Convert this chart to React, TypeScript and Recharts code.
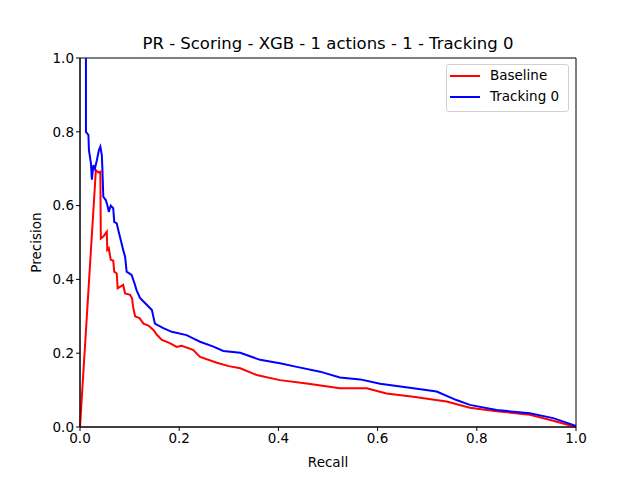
import { LineChart, Line, XAxis, YAxis, ReferenceArea } from 'recharts';

// PR curve points: [recall, precision]
const baselinePoints: [number, number][] = [
  [0, 0], [0.032, 0.696], [0.037, 0.69], [0.041, 0.692], [0.042, 0.511], [0.047, 0.516],
  [0.054, 0.529], [0.055, 0.48], [0.058, 0.485], [0.062, 0.453], [0.067, 0.451], [0.069, 0.421],
  [0.074, 0.416], [0.076, 0.376], [0.087, 0.385], [0.091, 0.362], [0.101, 0.358], [0.105, 0.349],
  [0.107, 0.326], [0.111, 0.30], [0.12, 0.295], [0.128, 0.28], [0.138, 0.275], [0.148, 0.263],
  [0.155, 0.25], [0.165, 0.236], [0.18, 0.228], [0.195, 0.217], [0.205, 0.22], [0.228, 0.209],
  [0.242, 0.19], [0.276, 0.174], [0.3, 0.165], [0.323, 0.159], [0.356, 0.141], [0.403, 0.127],
  [0.457, 0.118], [0.524, 0.105], [0.578, 0.105], [0.618, 0.091], [0.672, 0.082], [0.739, 0.069],
  [0.786, 0.052], [0.84, 0.043], [0.907, 0.033], [0.954, 0.017], [1.0, 0.0],
];

const trackingPoints: [number, number][] = [
  [0.012, 1.0], [0.012, 0.80], [0.017, 0.791], [0.018, 0.75], [0.022, 0.715], [0.024, 0.67],
  [0.027, 0.71], [0.03, 0.70], [0.034, 0.723], [0.038, 0.75], [0.041, 0.76], [0.044, 0.737],
  [0.045, 0.705], [0.047, 0.624], [0.052, 0.615], [0.056, 0.597], [0.058, 0.583], [0.062, 0.60],
  [0.067, 0.593], [0.069, 0.556], [0.074, 0.552], [0.078, 0.529], [0.083, 0.502], [0.087, 0.48],
  [0.091, 0.461], [0.094, 0.421], [0.104, 0.412], [0.11, 0.389], [0.114, 0.371], [0.121, 0.35],
  [0.131, 0.336], [0.145, 0.317], [0.151, 0.28], [0.168, 0.268], [0.185, 0.258], [0.215, 0.249],
  [0.228, 0.24], [0.242, 0.231], [0.269, 0.218], [0.289, 0.206], [0.323, 0.201], [0.363, 0.182],
  [0.403, 0.173], [0.437, 0.163], [0.484, 0.15], [0.524, 0.134], [0.565, 0.129], [0.605, 0.117],
  [0.672, 0.105], [0.719, 0.096], [0.759, 0.073], [0.786, 0.06], [0.84, 0.046], [0.907, 0.037],
  [0.954, 0.024], [1.0, 0.003],
];

const ticks = [0, 0.2, 0.4, 0.6, 0.8, 1.0];
const seriesNames = ['Baseline', 'Tracking 0'];
const seriesColors = ['#ff0000', '#0000ff'];

const baseline = baselinePoints.map(([recall, precision]) => ({ recall, precision }));
const tracking = trackingPoints.map(([recall, precision]) => ({ recall, precision }));

const font = 'DejaVu Sans, sans-serif';

function LegendBox() {
  return (
    <div
      style={{
        position: 'absolute',
        left: 446,
        top: 64,
        width: 123,
        boxSizing: 'border-box',
        border: '1px solid #d0d0d0',
        borderRadius: 3,
        background: 'rgba(255,255,255,0.8)',
        padding: '0 0 3px 3px',
        fontFamily: font,
        fontSize: 13.5,
        lineHeight: '21.3px',
        whiteSpace: 'nowrap',
      }}
    >
      {seriesNames.map((name, i) => (
        <div key={name} style={{ display: 'flex', alignItems: 'center' }}>
          <span style={{ display: 'inline-block', width: 30, height: 2, background: seriesColors[i], marginRight: 10 }} />
          <span>{name}</span>
        </div>
      ))}
    </div>
  );
}

export default function App() {
  return (
    <div style={{ position: 'absolute', left: 0, top: 0, width: 640, height: 480, background: '#fff' }}>
      <LineChart width={640} height={480} margin={{ top: 58, right: 64, left: 40, bottom: 11 }}>
        <text x={328} y={49} textAnchor="middle" fontFamily={font} fontSize={16.5} fill="#000">
          PR - Scoring - XGB - 1 actions - 1 - Tracking 0
        </text>
        <XAxis
          dataKey="recall"
          type="number"
          domain={[0, 1]}
          ticks={ticks}
          tickFormatter={(v) => Number(v).toFixed(1)}
          allowDuplicatedCategory={false}
          stroke="#000"
          tick={{ fill: '#000', fontSize: 13.5, fontFamily: font }}
          tickSize={4}
          height={42}
          label={{ value: 'Recall', position: 'insideBottom', offset: 2, fill: '#000', fontSize: 13.5, fontFamily: font }}
        />
        <YAxis
          type="number"
          domain={[0, 1]}
          ticks={ticks}
          tickFormatter={(v) => Number(v).toFixed(1)}
          stroke="#000"
          tick={{ fill: '#000', fontSize: 13.5, fontFamily: font }}
          tickSize={4}
          width={40}
          label={{ value: 'Precision', angle: -90, position: 'insideLeft', offset: -4, fill: '#000', fontSize: 13.5, fontFamily: font, style: { textAnchor: 'middle' } }}
        />
        <ReferenceArea x1={0} x2={1} y1={0} y2={1} fill="none" stroke="#000" strokeWidth={1} ifOverflow="visible" />
        <Line
          data={baseline}
          dataKey="precision"
          name={seriesNames[0]}
          type="linear"
          stroke={seriesColors[0]}
          strokeWidth={2}
          dot={false}
          isAnimationActive={false}
        />
        <Line
          data={tracking}
          dataKey="precision"
          name={seriesNames[1]}
          type="linear"
          stroke={seriesColors[1]}
          strokeWidth={2}
          dot={false}
          isAnimationActive={false}
        />
      </LineChart>
      <LegendBox />
    </div>
  );
}
